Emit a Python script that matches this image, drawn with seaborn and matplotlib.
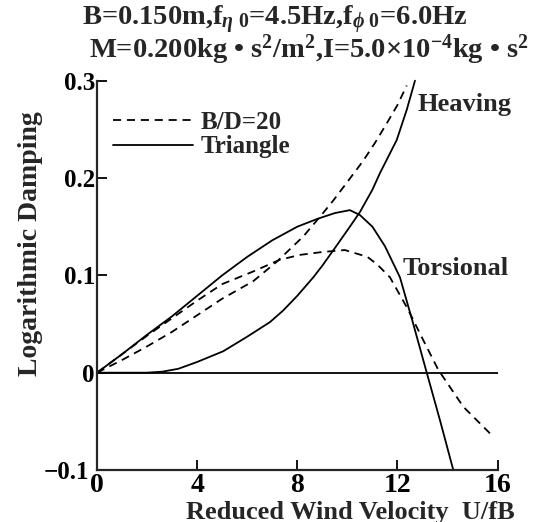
import matplotlib
matplotlib.use("Agg")
import matplotlib.pyplot as plt
import matplotlib.transforms as mtransforms
import seaborn as sns
import pandas as pd

# ---- data ----
u_tor_bd = [0, 1, 2, 3, 4, 5, 6.24, 7.3, 8.1, 9.0, 9.9, 10.8, 11.2, 11.7, 12.4, 13.0, 13.63, 14.63, 15.7]
d_tor_bd = [0, 0.019, 0.038, 0.056, 0.074, 0.091, 0.104, 0.116, 0.121, 0.124, 0.126, 0.119, 0.111, 0.098,
            0.066, 0.035, 0.003, -0.035, -0.0625]

u_hea_bd = [0, 1, 2, 3, 4, 5, 6.24, 7.18, 8.24, 8.9, 9.44, 10.0, 10.64, 11.1, 11.57, 12.0, 12.37]
d_hea_bd = [0, 0.013, 0.027, 0.042, 0.059, 0.076, 0.094, 0.114, 0.140, 0.160, 0.177, 0.196, 0.218,
            0.236, 0.256, 0.275, 0.295]

u_tor_tri = [0, 1, 2, 3, 4, 5, 6, 7, 8, 8.8, 9.5, 10.1, 10.5, 11.0, 11.5, 12.1, 12.6, 13.17, 13.7, 14.23]
d_tor_tri = [0, 0.019, 0.039, 0.058, 0.079, 0.100, 0.119, 0.136, 0.150, 0.158, 0.164, 0.167, 0.162,
             0.150, 0.130, 0.098, 0.053, 0.0, -0.049, -0.10]

u_hea_tri = [0, 1, 2, 2.6, 3.25, 4, 5.04, 6, 6.91, 7.44, 8, 8.64, 9.0, 9.5, 10.1, 10.5, 11.0, 11.3,
             11.97, 12.37, 12.7]
d_hea_tri = [0, 0, 0, 0.001, 0.004, 0.011, 0.022, 0.037, 0.052, 0.064, 0.079, 0.098, 0.110, 0.128,
             0.150, 0.165, 0.188, 0.205, 0.239, 0.270, 0.300]

sections = ["B/D=20", "Triangle"]
modes = ["Heaving", "Torsional"]
x_ticks = [0, 4, 8, 12, 16]
y_ticks = [-0.1, 0, 0.1, 0.2, 0.3]
y_ticklabels = ["\u22120.1", "0", "0.1", "0.2", "0.3"]

title1 = r"B=0.150m,f$_{\eta\ 0}$=4.5Hz,f$_{\phi\ 0}$=6.0Hz"
title2 = "M=0.200kg \u2022 s$^{2}$/m$^{2}$,I=5.0\u00d710$^{-4}$kg \u2022 s$^{2}$"

# ---- long-form table ----
parts = []
for sec, mode, u, d in [("B/D=20", "Torsional", u_tor_bd, d_tor_bd),
                        ("B/D=20", "Heaving", u_hea_bd, d_hea_bd),
                        ("Triangle", "Torsional", u_tor_tri, d_tor_tri),
                        ("Triangle", "Heaving", u_hea_tri, d_hea_tri)]:
    parts.append(pd.DataFrame({"u": u, "d": d, "section": sec, "mode": mode}))
df = pd.concat(parts, ignore_index=True)

sns.set_style("ticks")
plt.rcParams["font.family"] = ["Liberation Serif", "DejaVu Serif"]
plt.rcParams["font.weight"] = "bold"
plt.rcParams["mathtext.fontset"] = "custom"
plt.rcParams["mathtext.rm"] = "Liberation Serif:bold"
plt.rcParams["mathtext.it"] = "Liberation Serif:italic:bold"
plt.rcParams["mathtext.bf"] = "Liberation Serif:bold"
plt.rcParams["axes.unicode_minus"] = True

fig = plt.figure(figsize=(5.51, 5.22), dpi=100)
ax = fig.add_axes([97 / 551, 52 / 522, 400.6 / 551, 389.3 / 522])

sns.lineplot(data=df, x="u", y="d", style="section", units="mode", estimator=None, sort=False,
             color="black", linewidth=1.3, dashes={"B/D=20": (4.5, 3.2), "Triangle": ""},
             style_order=sections, ax=ax, clip_on=False)

ax.axhline(0, color="black", linewidth=1.3)

ax.set_xlim(0, 16)
ax.set_ylim(-0.1, 0.3)
ax.set_xticks(x_ticks)
ax.set_yticks(y_ticks)
ax.set_yticklabels(y_ticklabels)
sns.despine(ax=ax)
for s in ["left", "bottom"]:
    ax.spines[s].set_linewidth(1.6)
ax.tick_params(axis="both", direction="in", length=7, width=1.3, colors="black")
ax.tick_params(axis="y", labelsize=18, pad=1.5)
ax.tick_params(axis="x", labelsize=20, pad=2)

# nudge the lowest y label left, as in the reference
shift = mtransforms.ScaledTranslation(-6 / 100, 0, fig.dpi_scale_trans)
lab = ax.get_yticklabels()[0]
lab.set_transform(lab.get_transform() + shift)

ax.set_xlabel("Reduced Wind Velocity  U/fB", fontsize=19, fontweight="bold")
ax.set_ylabel("Logarithmic Damping", fontsize=20, fontweight="bold")
ax.xaxis.label.set_va("center")
ax.yaxis.label.set_va("center")
ax.xaxis.set_label_coords((350 - 97) / 400.6, (470 - 512) / 389.3)
ax.yaxis.set_label_coords((31 - 97) / 400.6, (470 - 244) / 389.3)

ax.text(12.82, 0.276, modes[0], fontsize=19, fontweight="bold", ha="left", va="center")
ax.text(12.22, 0.107, modes[1], fontsize=19, fontweight="bold", ha="left", va="center")

handles, labels = ax.get_legend_handles_labels()
keep = [(h, l) for h, l in zip(handles, labels) if l in sections]
leg = ax.legend([h for h, _ in keep], [l for _, l in keep], loc="upper left",
                bbox_to_anchor=((113 - 97) / 400.6, (470 - 111) / 389.3), frameon=False,
                fontsize=18, handlelength=3.2, handletextpad=0.3, labelspacing=0.05,
                borderpad=0, borderaxespad=0)
for line in leg.get_lines():
    line.set_color("black")
    line.set_linewidth(1.3)

fig.text(82 / 551, 1 - 25 / 522, title1, fontsize=20.5, fontweight="bold", ha="left", va="baseline")
fig.text(89 / 551, 1 - 58 / 522, title2, fontsize=20.5, fontweight="bold", ha="left", va="baseline")

fig.savefig("out.png", dpi=100)
